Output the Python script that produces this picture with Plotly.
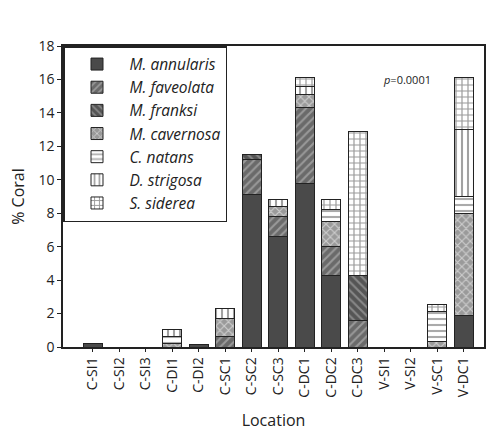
import plotly.graph_objects as go

locations = ["C-SI1", "C-SI2", "C-SI3", "C-DI1", "C-DI2", "C-SC1", "C-SC2", "C-SC3",
             "C-DC1", "C-DC2", "C-DC3", "V-SI1", "V-SI2", "V-SC1", "V-DC1"]

m_annularis = [0.2, 0, 0, 0, 0.15, 0, 9.1, 6.6, 9.8, 4.3, 0, 0, 0, 0, 1.9]
m_faveolata = [0, 0, 0, 0, 0, 0.6, 2.1, 1.2, 4.5, 1.7, 1.6, 0, 0, 0, 0]
m_franksi = [0, 0, 0, 0, 0, 0, 0.3, 0, 0, 0, 2.7, 0, 0, 0, 0]
m_cavernosa = [0, 0, 0, 0.2, 0, 1.1, 0, 0.6, 0.8, 1.5, 0, 0, 0, 0.3, 6.1]
c_natans = [0, 0, 0, 0.4, 0, 0, 0, 0, 0, 0.7, 0, 0, 0, 1.8, 1.0]
d_strigosa = [0, 0, 0, 0.45, 0, 0.6, 0, 0.4, 0.5, 0, 0, 0, 0, 0, 4.0]
s_siderea = [0, 0, 0, 0, 0, 0, 0, 0, 0.5, 0.6, 8.6, 0, 0, 0.45, 3.1]

series = [
    ("M. annularis", m_annularis, "#4a4a4a", "", "#4a4a4a"),
    ("M. faveolata", m_faveolata, "#6a6a6a", "/", "#c8c8c8"),
    ("M. franksi", m_franksi, "#555555", "\\", "#bbbbbb"),
    ("M. cavernosa", m_cavernosa, "#9a9a9a", "x", "#ffffff"),
    ("C. natans", c_natans, "#ffffff", "-", "#555555"),
    ("D. strigosa", d_strigosa, "#ffffff", "|", "#444444"),
    ("S. siderea", s_siderea, "#ffffff", "+", "#333333"),
]

fig = go.Figure()
for name, vals, bg, shape, fg in series:
    fig.add_trace(go.Bar(
        x=locations, y=vals, name=name, width=0.72,
        marker=dict(color=bg, line=dict(color="#222222", width=1),
                    pattern=dict(shape=shape, fgcolor=fg, bgcolor=bg, size=6, solidity=0.35)),
    ))

font = "Open Sans, DejaVu Sans, sans-serif"
fig.update_layout(
    barmode="stack",
    width=493, height=439,
    margin=dict(l=63, r=7, t=46, b=92),
    plot_bgcolor="white", paper_bgcolor="white",
    font=dict(family=font, size=14, color="#222222"),
    showlegend=True,
    legend=dict(x=0, y=1, xanchor="left", yanchor="top",
                bordercolor="#222222", borderwidth=1.5, bgcolor="white",
                font=dict(size=15.5, family=font, style="italic"),
                tracegroupgap=0, itemwidth=55, traceorder="normal"),
    xaxis=dict(range=[-1.13, 14.77], tickangle=-90, showline=True, linecolor="#222222",
               linewidth=1.5, mirror=True, ticks="outside", ticklen=3, tickcolor="#222222",
               title=dict(text="Location", font=dict(size=16), standoff=18), tickfont=dict(size=14)),
    yaxis=dict(range=[0, 18], dtick=2, showline=True, linecolor="#222222", linewidth=1.5,
               mirror=True, ticks="outside", ticklen=4, tickcolor="#222222", showgrid=False,
               zeroline=False, title=dict(text="% Coral", font=dict(size=16), standoff=10),
               tickfont=dict(size=14)),
    annotations=[dict(x=0.88, y=0.92, xref="paper", yref="paper", showarrow=False,
                      text="<i>p</i>=0.0001", font=dict(size=11))],
)
fig.write_html("out.html")
